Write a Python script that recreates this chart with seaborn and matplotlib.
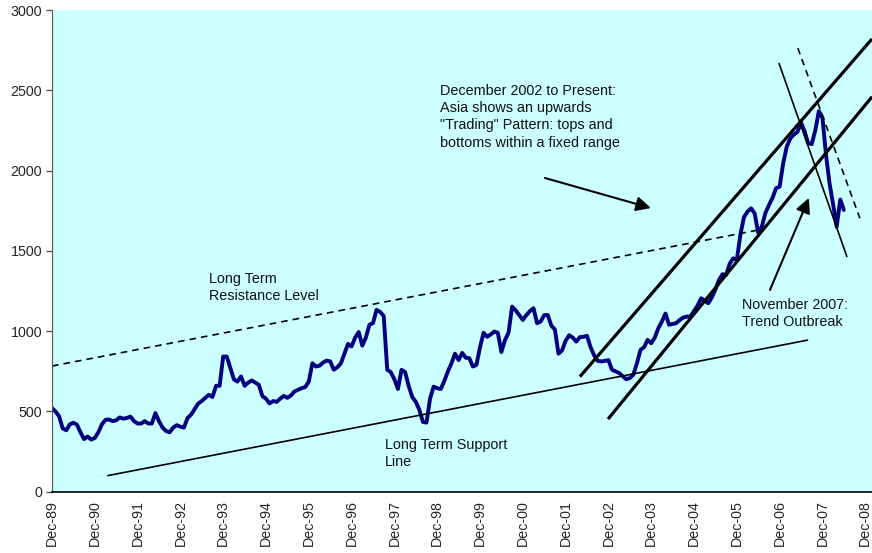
import numpy as np
import pandas as pd
import matplotlib
matplotlib.use('Agg')
import matplotlib.pyplot as plt
import seaborn as sns

# --- DATA (monthly index level, Dec-89 onwards) ---
index_values = [
    521, 500, 470, 395, 383, 420, 430, 418, 370, 328, 344, 325,
    335, 370, 420, 448, 450, 440, 445, 463, 455, 460, 468, 440,
    425, 425, 440, 425, 425, 490, 440, 400, 378, 370, 400, 415,
    405, 400, 459, 480, 515, 550, 565, 585, 604, 590, 660, 660,
    842, 842, 770, 700, 686, 718, 660, 680, 693, 680, 666, 595,
    580, 550, 565, 560, 580, 597, 585, 600, 625, 635, 645, 652,
    686, 800, 780, 785, 805, 817, 812, 760, 775, 800, 860, 921,
    905, 960, 995, 910, 960, 1040, 1050, 1133, 1120, 1095, 760, 745,
    700, 640, 760, 745, 660, 590, 560, 510, 435, 431, 580, 655,
    645, 640, 690, 750, 800, 860, 820, 865, 835, 832, 780, 790,
    900, 990, 965, 980, 998, 990, 870, 945, 990, 1153, 1130, 1100,
    1070, 1100, 1125, 1143, 1050, 1060, 1100, 1101, 1035, 1010, 860, 880,
    940, 975, 960, 935, 963, 965, 971, 900, 850, 815, 812, 815,
    820, 760, 750, 740, 720, 701, 708, 730, 800, 884, 900, 946,
    925, 960, 1019, 1060, 1110, 1040, 1045, 1050, 1070, 1085, 1091, 1091,
    1125, 1160, 1205, 1190, 1174, 1210, 1260, 1319, 1355, 1350, 1420, 1454,
    1444, 1600, 1710, 1745, 1765, 1734, 1612, 1650, 1735, 1785, 1830, 1890,
    1900, 2045, 2149, 2200, 2225, 2240, 2300, 2245, 2170, 2165, 2250, 2370,
    2330, 2100, 1920, 1790, 1650, 1820, 1755,
]
year_labels = ['Dec-%02d' % (y % 100) for y in range(1989, 2009)]
y_ticks = [0, 500, 1000, 1500, 2000, 2500, 3000]

# trend lines drawn on the chart: (month, value) start / end
resistance_line = [(0, 783), (198.0, 1630)]
support_line = [(15.5, 100), (212.0, 945)]
channel_upper = [(148.0, 717), (229.9, 2820)]
channel_lower = [(155.9, 453), (229.9, 2460)]
break_line = [(203.8, 2670), (222.9, 1462)]
break_line_dashed = [(209.1, 2763), (226.5, 1703)]
arrow_trading = [(138.2, 1954), (167.9, 1767)]
arrow_outbreak = [(201.3, 1257), (212.2, 1829)]

df = pd.DataFrame({'month': np.arange(len(index_values)), 'level': index_values})

# --- STYLE ---
sns.set_style('white')
plt.rcParams['font.family'] = ['Liberation Sans', 'DejaVu Sans']

fig = plt.figure(figsize=(8.72, 5.53), dpi=100)
ax = fig.add_axes([0.0596, 0.1107, 0.9404, 0.8712])
ax.set_facecolor('#CCFFFF')

sns.lineplot(data=df, x='month', y='level', ax=ax, color='#000080', linewidth=2.8)

def seg(pts, **kw):
    (x0, y0), (x1, y1) = pts
    ax.plot([x0, x1], [y0, y1], color='black', solid_capstyle='butt', **kw)

seg(resistance_line, lw=1.2, ls=(0, (4, 3)))
seg(support_line, lw=1.2)
seg(channel_upper, lw=2.3)
seg(channel_lower, lw=2.3)
seg(break_line, lw=1.2)
seg(break_line_dashed, lw=1.2, ls=(0, (4, 3)))

for tail, tip in [arrow_trading, arrow_outbreak]:
    ax.annotate('', xy=tip, xytext=tail,
                arrowprops=dict(arrowstyle='-|>', color='black', lw=1.5,
                                mutation_scale=22, shrinkA=0, shrinkB=0))

txt = dict(fontsize=10.4, ha='left', va='top', linespacing=1.3, color='#111111')
ax.text(44.0, 1370, 'Long Term\nResistance Level', **txt)
ax.text(108.8, 2540, 'December 2002 to Present:\nAsia shows an upwards\n'
        '"Trading" Pattern: tops and\nbottoms within a fixed range', **txt)
ax.text(93.4, 337, 'Long Term Support\nLine', **txt)
ax.text(193.4, 1208, 'November 2007:\nTrend Outbreak', **txt)

# --- AXES ---
ax.set_xlim(0, 229.9)
ax.set_ylim(0, 3000)
ax.set_xticks(np.arange(len(year_labels)) * 12)
ax.set_xticklabels(year_labels, rotation=90, fontsize=10.3)
ax.set_yticks(y_ticks)
ax.set_yticklabels([str(v) for v in y_ticks], fontsize=10.3)
ax.tick_params(axis='x', length=0, pad=6)
ax.tick_params(axis='y', length=4, width=1, color='#555555', direction='out', pad=3, left=True)
ax.set_xlabel('')
ax.set_ylabel('')
for s in ['top', 'right']:
    ax.spines[s].set_visible(False)
ax.spines['left'].set_color('#555555')
ax.spines['bottom'].set_color('black')
ax.spines['bottom'].set_linewidth(1.2)

fig.savefig('out.png', dpi=100)
